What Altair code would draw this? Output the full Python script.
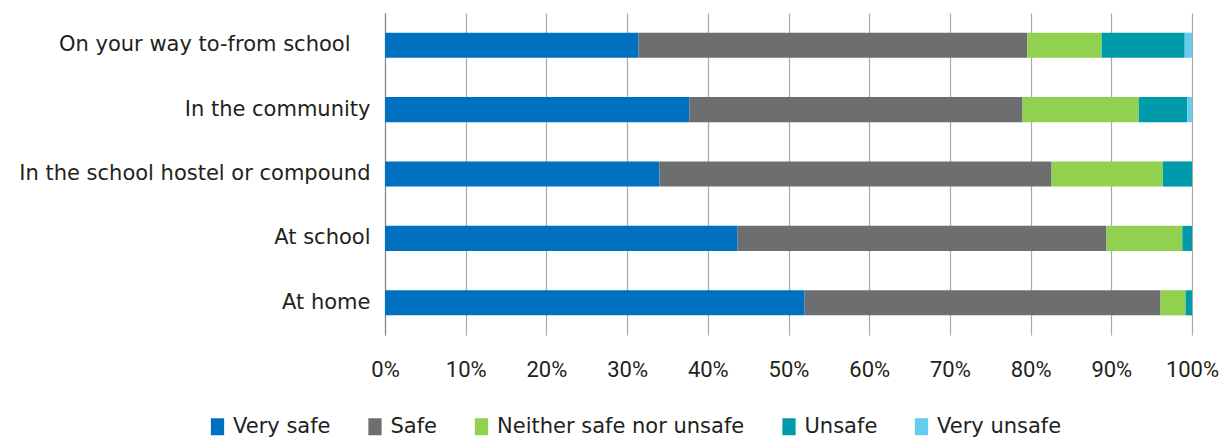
import altair as alt
import pandas as pd

categories = ["On your way to-from school", "In the community",
              "In the school hostel or compound", "At school", "At home"]
levels = ["Very safe", "Safe", "Neither safe nor unsafe", "Unsafe", "Very unsafe"]
colors = ["#0070C0", "#6D6E70", "#92D050", "#009BAA", "#66CCEE"]

very_safe = [31.4, 37.7, 34.0, 43.7, 52.0]
safe = [48.2, 41.3, 48.6, 45.7, 44.1]
neither = [9.2, 14.4, 13.8, 9.4, 3.1]
unsafe = [10.3, 6.0, 3.6, 1.2, 0.8]
very_unsafe = [0.9, 0.6, 0.0, 0.0, 0.0]

series = [very_safe, safe, neither, unsafe, very_unsafe]
rows = []
for li, (lvl, vals) in enumerate(zip(levels, series)):
    for cat, v in zip(categories, vals):
        rows.append({"place": cat, "level": lvl, "order": li, "value": v / 100.0})
df = pd.DataFrame(rows)

FONT = "DejaVu Sans"
XFONT = "Roboto"
TXT = "#231F20"

chart = alt.Chart(df).mark_bar().encode(
    y=alt.Y("place:N", sort=categories, title=None,
            scale=alt.Scale(paddingInner=0.61, paddingOuter=0.305),
            axis=alt.Axis(ticks=False, domain=True, domainColor="#8C8C8C", domainWidth=1.2,
                          labelFontSize=21, labelFont=FONT, labelColor=TXT,
                          labelPadding={"condition": {"test": "datum.value == 'On your way to-from school'",
                                                      "value": 35},
                                        "value": 15},
                          labelLimit=420, grid=False)),
    x=alt.X("sum(value):Q", stack="zero", title=None,
            scale=alt.Scale(domain=[0, 1], nice=False),
            axis=alt.Axis(values=[i / 10 for i in range(11)], format=".0%", ticks=False,
                          domain=False, grid=True, gridColor="#AAAAAA", gridWidth=1.2,
                          labelFontSize=22, labelFont=XFONT, labelColor=TXT,
                          labelPadding=24, labelFlush=False)),
    color=alt.Color("level:N", sort=levels,
                    scale=alt.Scale(domain=levels, range=colors),
                    legend=alt.Legend(title=None, orient="none", direction="horizontal",
                                      legendX=-178, legendY=403, padding=0,
                                      symbolType="M-0.78,-1L0.78,-1L0.78,1L-0.78,1Z",
                                      symbolSize=289, symbolStrokeWidth=0,
                                      labelFontSize=21, labelFont=FONT, labelColor=TXT,
                                      labelOffset=5, columnPadding=33.5, labelLimit=400)),
    order=alt.Order("order:Q", sort="ascending"),
).properties(
    width=807, height=322,
    autosize=alt.AutoSizeParams(type="none"),
    padding={"left": 377, "top": 5, "right": 28, "bottom": 107},
).configure_view(stroke=None)

chart.save("out.html", embed_options={"renderer": "svg", "actions": False})
